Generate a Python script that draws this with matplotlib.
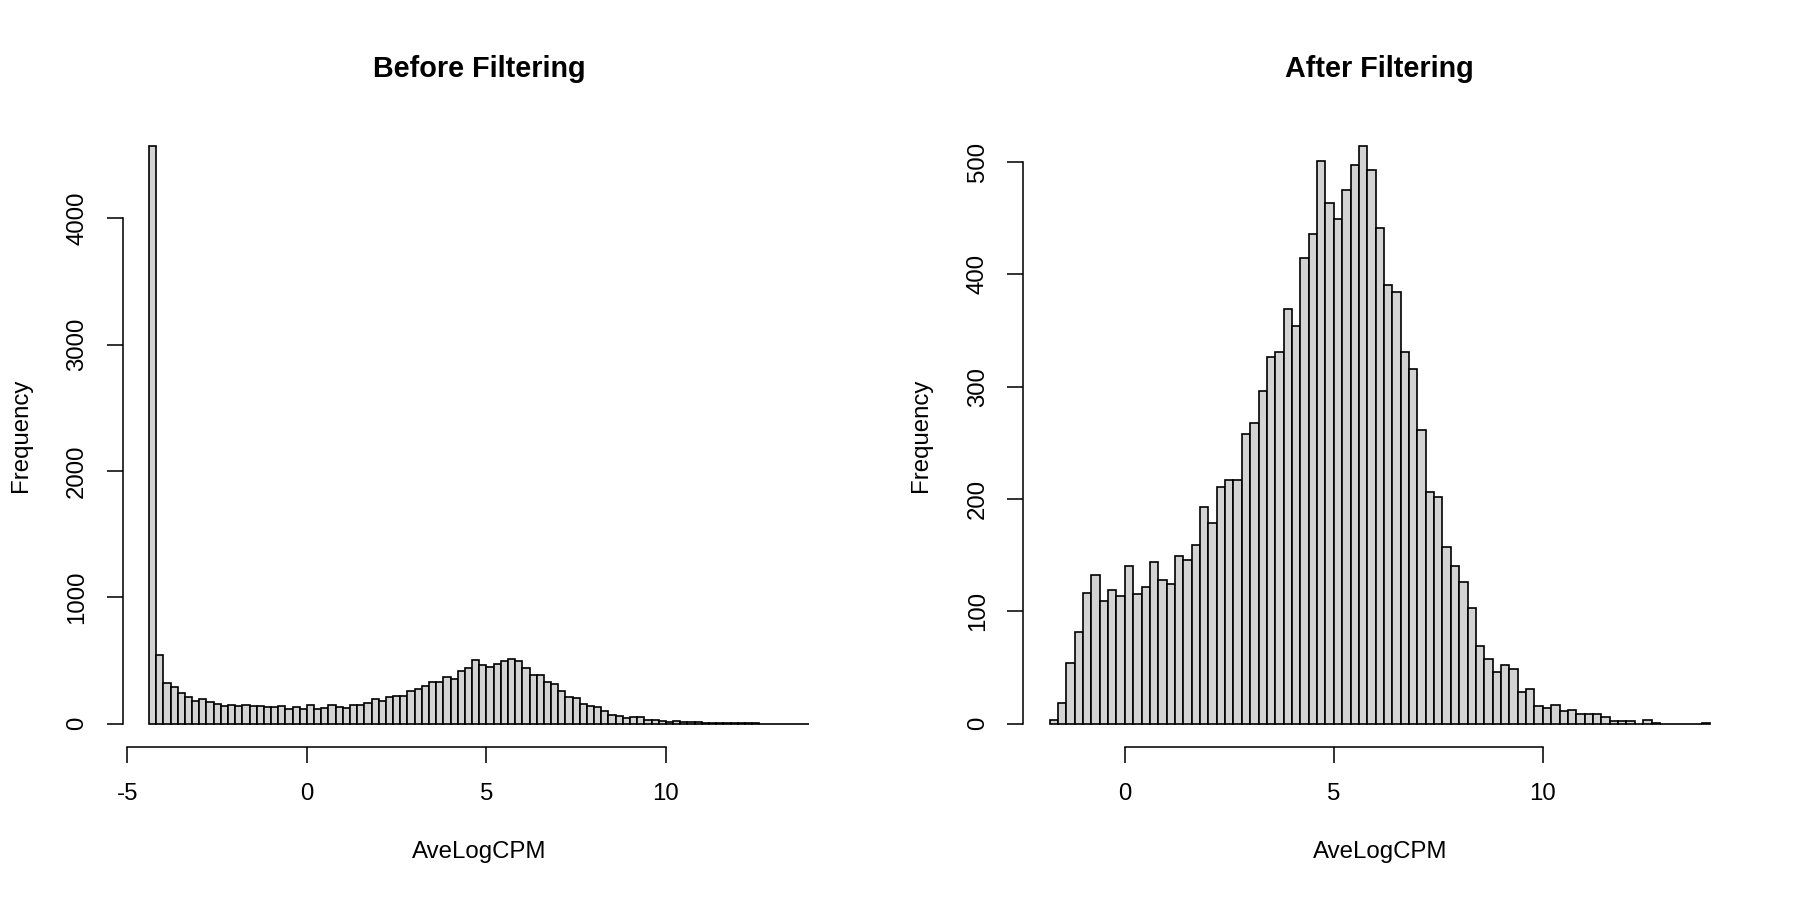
import matplotlib.pyplot as plt
import numpy as np

plt.rcParams['font.family'] = ['Liberation Sans', 'DejaVu Sans']
plt.rcParams['axes.unicode_minus'] = False

# histogram counts, bin width 0.2
bin_width = 0.2
before_start = -4.4
before_counts = [4572, 546, 325, 288, 240, 214, 177, 193, 169, 153,
                 140, 150, 143, 150, 137, 140, 135, 132, 143, 114,
                 129, 114, 145, 116, 124, 150, 129, 127, 150, 150,
                 161, 195, 180, 214, 222, 222, 259, 272, 298, 330,
                 330, 370, 356, 420, 438, 504, 462, 449, 475, 499,
                 515, 496, 443, 388, 383, 333, 314, 261, 209, 203,
                 158, 143, 129, 103, 71, 61, 45, 55, 50, 26,
                 32, 18, 16, 18, 13, 16, 10, 8, 8, 8,
                 5, 5, 5, 3, 6, 1, 1, 1, 1, 1, 1, 1]
after_start = -1.8
after_counts = [3, 18, 54, 82, 116, 132, 109, 119, 114, 140,
                115, 122, 144, 128, 124, 149, 146, 159, 193, 179,
                211, 217, 217, 258, 268, 296, 326, 331, 369, 354,
                414, 436, 501, 463, 449, 475, 497, 514, 493, 441,
                390, 384, 331, 316, 261, 206, 202, 157, 140, 126,
                103, 69, 58, 46, 52, 49, 28, 31, 16, 14,
                17, 11, 12, 9, 9, 9, 6, 2, 2, 2,
                0, 3, 1, 0, 0, 0, 0, 0, 1]

before_xticks = [-5, 0, 5, 10]
before_yticks = [0, 1000, 2000, 3000, 4000]
after_xticks = [0, 5, 10]
after_yticks = [0, 100, 200, 300, 400, 500]


def r_hist(ax, start, counts, xticks, yticks, title):
    counts = np.array(counts)
    left = start + bin_width * np.arange(len(counts))
    ax.bar(left, counts, width=bin_width, align='edge',
           color='#d3d3d3', edgecolor='black', linewidth=0.8)
    # R style 4% padding around data range
    x0, x1 = start, start + bin_width * len(counts)
    px = (x1 - x0) * 0.04
    py = counts.max() * 0.04
    ax.set_xlim(x0 - px, x1 + px)
    ax.set_ylim(-py, counts.max() + py)
    for s in ['top', 'right']:
        ax.spines[s].set_visible(False)
    ax.spines['bottom'].set_bounds(xticks[0], xticks[-1])
    ax.spines['left'].set_bounds(yticks[0], yticks[-1])
    for s in ['bottom', 'left']:
        ax.spines[s].set_linewidth(0.75)
    ax.set_xticks(xticks)
    ax.set_yticks(yticks)
    ax.tick_params(direction='out', length=7.5, width=0.75, labelsize=11.5)
    ax.tick_params(axis='x', pad=10)
    ax.tick_params(axis='y', pad=9, labelrotation=90)
    for lab in ax.get_yticklabels():
        lab.set_va('center')
    ax.set_title(title, fontsize=13.8, fontweight='bold', pad=22)
    ax.set_xlabel('AveLogCPM', fontsize=11.5, va='center')
    ax.set_ylabel('Frequency', fontsize=11.5, va='center')
    ax.xaxis.set_label_coords(0.5, -0.1686)
    ax.yaxis.set_label_coords(-0.143, 0.5)


fig = plt.figure(figsize=(12, 6), dpi=150)
ax1 = fig.add_axes([0.0681, 0.1702, 0.3963, 0.6932])
ax2 = fig.add_axes([0.5684, 0.1702, 0.3963, 0.6932])
r_hist(ax1, before_start, before_counts, before_xticks, before_yticks, 'Before Filtering')
r_hist(ax2, after_start, after_counts, after_xticks, after_yticks, 'After Filtering')

fig.savefig('out.png', dpi=150)
